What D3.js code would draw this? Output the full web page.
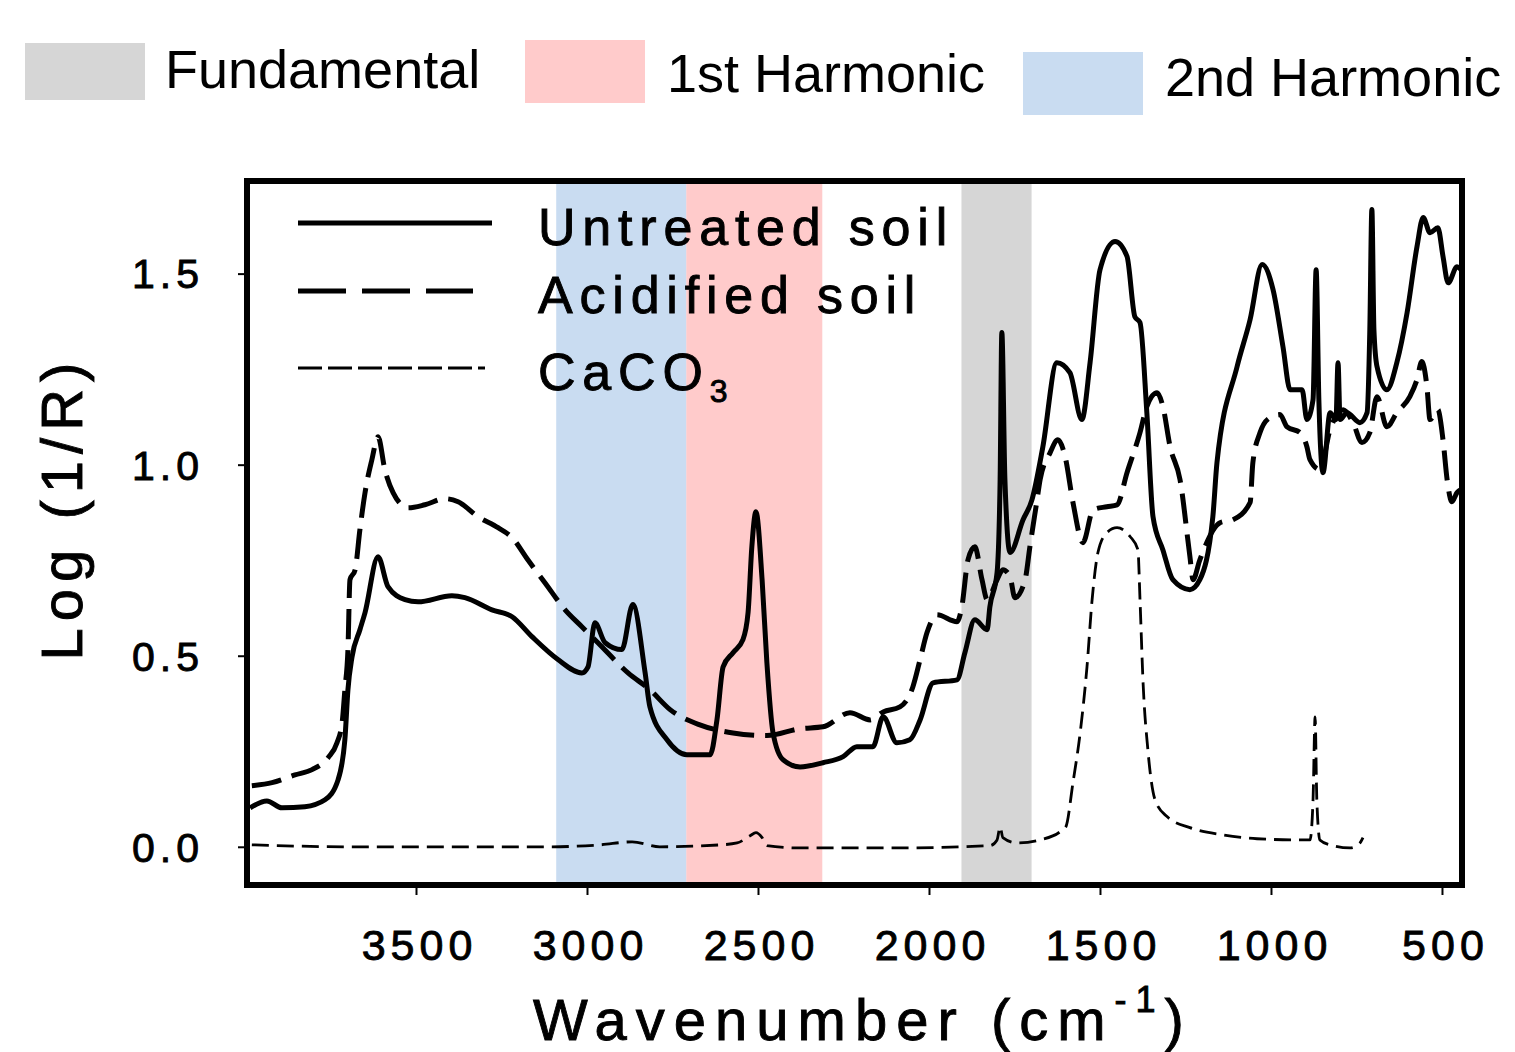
<!DOCTYPE html>
<html>
<head>
<meta charset="utf-8">
<script src="https://cdn.jsdelivr.net/npm/d3@7"></script>
<style>
  html, body { margin: 0; padding: 0; background: #fff; }
  svg { display: block; }
  text { font-family: "Liberation Sans", Arial, sans-serif; fill: #000; }
  .heavy { stroke: #000; stroke-width: 0.9px; }
</style>
</head>
<body>
<svg id="chart" width="1515" height="1052"></svg>
<script>
// ─── Data ─────────────────────────────────────────
// [wavenumber cm-1, log(1/R)]
const untreatedSoil = [
  [3985,0.102],[3936,0.120],[3892,0.102],[3825,0.105],[3766,0.123],[3728,0.175],
  [3708,0.280],[3699,0.411],[3687,0.497],[3664,0.568],[3649,0.613],[3611,0.759],
  [3582,0.681],[3532,0.647],[3494,0.641],[3395,0.657],[3357,0.652],[3278,0.620],
  [3219,0.602],[3161,0.550],[3085,0.490],[3015,0.455],[2997,0.471],[2977,0.586],
  [2947,0.534],[2898,0.516],[2866,0.634],[2830,0.455],[2816,0.366],[2766,0.280],
  [2708,0.241],[2640,0.241],[2620,0.332],[2602,0.471],[2573,0.508],[2544,0.542],
  [2529,0.613],[2518,0.785],[2506,0.877],[2488,0.699],[2474,0.482],[2456,0.298],
  [2427,0.228],[2377,0.209],[2310,0.220],[2251,0.236],[2211,0.262],[2164,0.262],
  [2134,0.340],[2094,0.272],[2056,0.280],[2026,0.332],[1988,0.429],[1918,0.437],
  [1895,0.508],[1866,0.594],[1830,0.568],[1822,0.628],[1801,0.717],[1792,0.961],
  [1787,1.346],[1778,0.961],[1763,0.770],[1725,0.856],[1699,0.908],[1667,1.047],
  [1626,1.267],[1588,1.241],[1553,1.118],[1529,1.267],[1500,1.510],[1456,1.584],
  [1421,1.545],[1398,1.387],[1383,1.372],[1363,1.136],[1345,0.864],[1316,0.777],
  [1287,0.699],[1237,0.673],[1208,0.699],[1170,0.864],[1158,1.005],[1099,1.257],
  [1061,1.380],[1026,1.524],[994,1.458],[965,1.309],[944,1.196],[909,1.196],
  [895,1.118],[877,1.170],[868,1.510],[860,1.170],[848,0.979],[827,1.136],
  [810,1.118],[804,1.267],[798,1.118],[778,1.136],[740,1.110],[719,1.136],
  [711,1.353],[705,1.668],[699,1.353],[690,1.257],[661,1.196],[632,1.267],
  [602,1.398],[573,1.571],[555,1.647],[535,1.607],[512,1.620],[497,1.545],
  [482,1.476],[456,1.518],[444,1.510]
];

const acidifiedSoil = [
  [3980,0.160],[3921,0.168],[3854,0.188],[3804,0.202],[3757,0.233],[3731,0.272],
  [3716,0.325],[3708,0.411],[3699,0.516],[3693,0.699],[3678,0.725],[3664,0.830],
  [3649,0.927],[3629,1.013],[3611,1.073],[3591,0.987],[3567,0.927],[3523,0.887],
  [3474,0.895],[3415,0.911],[3377,0.903],[3319,0.864],[3260,0.835],[3219,0.809],
  [3173,0.751],[3123,0.691],[3064,0.620],[3015,0.576],[2968,0.534],[2880,0.455],
  [2816,0.411],[2757,0.359],[2670,0.319],[2573,0.298],[2474,0.291],[2377,0.309],
  [2310,0.314],[2231,0.351],[2172,0.332],[2134,0.353],[2085,0.366],[2047,0.419],
  [2026,0.490],[2006,0.560],[1977,0.607],[1918,0.589],[1904,0.628],[1886,0.751],
  [1866,0.785],[1845,0.699],[1830,0.647],[1801,0.699],[1784,0.725],[1763,0.707],
  [1749,0.652],[1719,0.699],[1705,0.785],[1684,0.908],[1675,0.961],[1646,1.031],
  [1623,1.065],[1602,1.021],[1579,0.901],[1550,0.796],[1520,0.882],[1480,0.890],
  [1450,0.895],[1421,0.979],[1383,1.084],[1363,1.152],[1333,1.188],[1316,1.152],
  [1295,1.047],[1266,0.961],[1237,0.759],[1228,0.699],[1208,0.751],[1149,0.848],
  [1111,0.856],[1061,0.901],[1053,1.005],[1032,1.084],[1003,1.123],[974,1.131],
  [953,1.099],[915,1.084],[895,1.047],[886,1.013],[857,0.987],[827,1.092],
  [789,1.144],[760,1.110],[734,1.058],[711,1.084],[690,1.178],[661,1.099],
  [632,1.136],[594,1.178],[573,1.223],[559,1.270],[544,1.204],[535,1.118],
  [512,1.144],[497,1.065],[485,0.961],[471,0.903],[456,0.927],[444,0.935]
];

const caco3 = [
  [3980,0.005],[3693,0.000],[3401,0.000],[3108,0.000],[2962,0.005],[2868,0.013],
  [2787,0.000],[2611,0.005],[2561,0.010],[2523,0.029],[2506,0.037],[2488,0.024],
  [2474,0.003],[2377,-0.003],[2085,-0.003],[1822,0.003],[1801,0.018],[1792,0.052],
  [1784,0.024],[1743,0.010],[1675,0.018],[1617,0.039],[1600,0.052],[1579,0.168],
  [1558,0.298],[1538,0.471],[1523,0.647],[1506,0.770],[1480,0.822],[1450,0.835],
  [1412,0.812],[1389,0.777],[1383,0.647],[1374,0.429],[1360,0.254],[1339,0.123],
  [1304,0.079],[1237,0.050],[1140,0.031],[1041,0.021],[915,0.018],[886,0.018],
  [877,0.123],[871,0.340],[866,0.123],[857,0.018],[827,0.005],[769,-0.003],
  [740,0.010],[731,0.024]
];

// spectral regions [from, to] in cm-1
const bandNames = ['Fundamental', '1st Harmonic', '2nd Harmonic'];
const bandRanges = [[1905, 1700], [2710, 2312], [3090, 2710]];
const bandColors = ['#d6d6d6', '#ffcbcb', '#c9dcf1'];

const seriesNames = ['Untreated soil', 'Acidified soil', 'CaCO'];

const xTicks = [3500, 3000, 2500, 2000, 1500, 1000, 500];
const yTicks = [0.0, 0.5, 1.0, 1.5];

// ─── Layout ───────────────────────────────────────
const svg = d3.select('#chart');
const frame = { left: 247, top: 181, right: 1462, bottom: 885 };

const x = d3.scaleLinear().domain([4000, 440]).range([245, 1462.5]);
const y = d3.scaleLinear().domain([-0.1, 1.745]).range([885, 180]);

svg.append('defs').append('clipPath').attr('id', 'plot-clip')
  .append('rect')
  .attr('x', frame.left).attr('y', frame.top)
  .attr('width', frame.right - frame.left).attr('height', frame.bottom - frame.top);

// ─── Bands ────────────────────────────────────────
svg.append('g').attr('class', 'bands')
  .selectAll('rect')
  .data(bandRanges)
  .join('rect')
  .attr('x', d => x(d[0]))
  .attr('width', d => x(d[1]) - x(d[0]))
  .attr('y', frame.top)
  .attr('height', frame.bottom - frame.top)
  .attr('fill', (d, i) => bandColors[i]);

// ─── Curves ───────────────────────────────────────
const line = d3.line()
  .x(d => x(d[0]))
  .y(d => y(d[1]))
  .curve(d3.curveMonotoneX);

const curves = svg.append('g').attr('clip-path', 'url(#plot-clip)');

curves.append('path')
  .datum(caco3)
  .attr('d', line)
  .attr('fill', 'none')
  .attr('stroke', '#000')
  .attr('stroke-width', 2.8)
  .attr('stroke-dasharray', '17,8');

curves.append('path')
  .datum(acidifiedSoil)
  .attr('d', line)
  .attr('fill', 'none')
  .attr('stroke', '#000')
  .attr('stroke-width', 5)
  .attr('stroke-dasharray', '30,11')
  .attr('stroke-linejoin', 'round');

curves.append('path')
  .datum(untreatedSoil)
  .attr('d', line)
  .attr('fill', 'none')
  .attr('stroke', '#000')
  .attr('stroke-width', 5)
  .attr('stroke-linejoin', 'round');

// ─── Axes ─────────────────────────────────────────
const xAxis = svg.append('g')
  .attr('transform', `translate(0, ${frame.bottom})`)
  .call(d3.axisBottom(x).tickValues(xTicks).tickSize(10).tickPadding(34).tickFormat(d3.format('d')));

const yAxis = svg.append('g')
  .attr('transform', `translate(${frame.left}, 0)`)
  .call(d3.axisLeft(y).tickValues(yTicks).tickSize(9).tickPadding(34).tickFormat(d3.format('.1f')));

[xAxis, yAxis].forEach(function (g) {
  g.select('.domain').remove();
  g.selectAll('.tick line').attr('stroke', '#000').attr('stroke-width', 2);
  g.selectAll('.tick text')
    .attr('class', 'heavy')
    .style('font-family', '"Liberation Sans", Arial, sans-serif')
    .attr('fill', '#000')
    .style('letter-spacing', '5px');
});
xAxis.selectAll('.tick text').style('font-size', '43px').attr('dx', '3px');
yAxis.selectAll('.tick text').style('font-size', '41px').attr('dy', '0.35em');

// frame on top
svg.append('rect')
  .attr('x', frame.left).attr('y', frame.top)
  .attr('width', frame.right - frame.left).attr('height', frame.bottom - frame.top)
  .attr('fill', 'none')
  .attr('stroke', '#000')
  .attr('stroke-width', 6);

// axis titles
const xTitle = svg.append('text')
  .attr('class', 'heavy')
  .attr('x', 533).attr('y', 1040)
  .style('font-size', '58px')
  .style('letter-spacing', '9px');
xTitle.append('tspan').text('Wavenumber (cm');
xTitle.append('tspan').attr('dy', -28).style('font-size', '36px').text('-1');
xTitle.append('tspan').attr('dy', 28).text(')');

svg.append('text')
  .attr('class', 'heavy')
  .attr('transform', 'translate(82, 508) rotate(-90)')
  .attr('text-anchor', 'middle')
  .style('font-size', '58px')
  .style('letter-spacing', '7px')
  .text('Log (1/R)');

// ─── Inner legend ─────────────────────────────────
const legendRows = [
  { y: 223, dash: null, width: 5, x2: 492 },
  { y: 291, dash: '48,16', width: 5, x2: 473 },
  { y: 368, dash: '24,6', width: 2.8, x2: 485 }
];
legendRows.forEach(function (r, i) {
  svg.append('line')
    .attr('x1', 298).attr('x2', r.x2)
    .attr('y1', r.y).attr('y2', r.y)
    .attr('stroke', '#000')
    .attr('stroke-width', r.width)
    .attr('stroke-dasharray', r.dash);
  const t = svg.append('text')
    .attr('class', 'heavy')
    .attr('x', 538).attr('y', r.y + 22)
    .style('font-size', '52px')
    .style('letter-spacing', '6.8px')
    .text(seriesNames[i]);
  if (i === 2) {
    t.append('tspan').attr('dy', 12).style('font-size', '32px').text('3');
  }
});

// ─── Top legend ───────────────────────────────────
const topLegend = [
  { sx: 25, sy: 43, sh: 57, tx: 165, ty: 88 },
  { sx: 525, sy: 40, sh: 63, tx: 667, ty: 92 },
  { sx: 1023, sy: 52, sh: 63, tx: 1165, ty: 96 }
];
topLegend.forEach(function (l, i) {
  svg.append('rect')
    .attr('x', l.sx).attr('y', l.sy)
    .attr('width', 120).attr('height', l.sh)
    .attr('fill', bandColors[i]);
  svg.append('text')
    .attr('x', l.tx).attr('y', l.ty)
    .style('font-size', '54px')
    .text(bandNames[i]);
});
</script>
</body>
</html>
